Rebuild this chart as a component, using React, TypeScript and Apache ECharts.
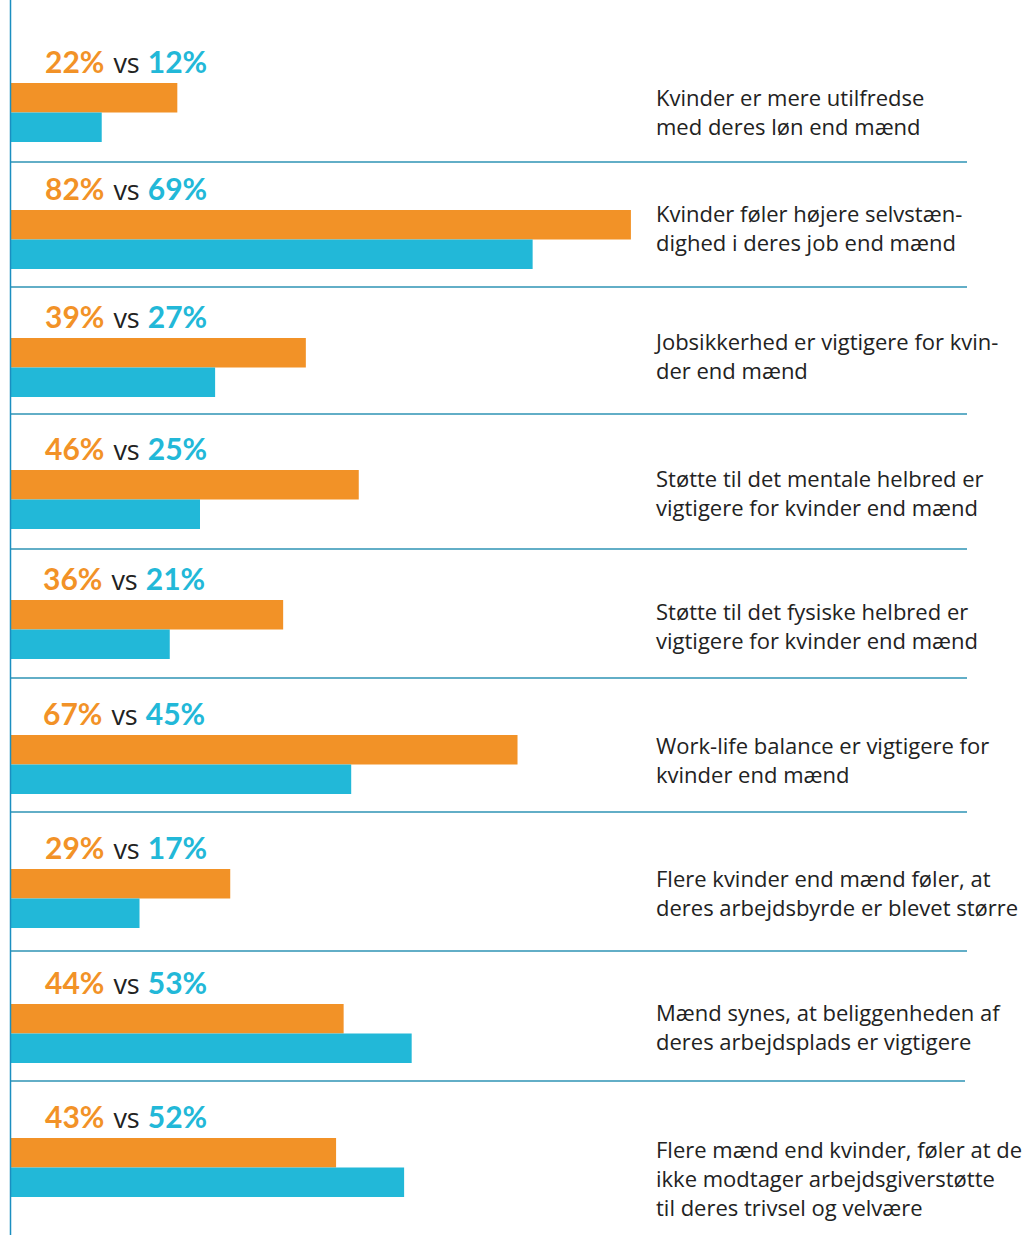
import React, { useEffect, useRef } from "react";
import * as echarts from "echarts";

const women = [22, 82, 39, 46, 36, 67, 29, 44, 43];
const men = [12, 69, 27, 25, 21, 45, 17, 53, 52];
const descriptions = [
  "Kvinder er mere utilfredse\nmed deres løn end mænd",
  "Kvinder føler højere selvstæn-\ndighed i deres job end mænd",
  "Jobsikkerhed er vigtigere for kvin-\nder end mænd",
  "Støtte til det mentale helbred er\nvigtigere for kvinder end mænd",
  "Støtte til det fysiske helbred er\nvigtigere for kvinder end mænd",
  "Work-life balance er vigtigere for\nkvinder end mænd",
  "Flere kvinder end mænd føler, at\nderes arbejdsbyrde er blevet større",
  "Mænd synes, at beliggenheden af\nderes arbejdsplads er vigtigere",
  "Flere mænd end kvinder, føler at de\nikke modtager arbejdsgiverstøtte\ntil deres trivsel og velvære",
];
const groups = ["Kvinder", "Mænd"];

// layout (pixels)
const rowTops = [83, 210, 338, 470, 600, 735, 869, 1004, 1138];
const labelLefts = [45, 45, 45, 45, 43, 43, 45, 45, 45];
const descCenters = [111, 227, 355, 492, 625, 759, 892, 1026, 1178];
const separators = [162, 287, 414, 549, 678, 812, 951, 1081];

const ORANGE = "#F29227";
const BLUE = "#22B8D8";
const TEXT = "#222222";
const LINE = "#2E93B4";
const FONT = "Lato, 'Open Sans', sans-serif";
const DESC_FONT = "'Open Sans', sans-serif";

export default function App() {
  const ref = useRef<HTMLDivElement>(null);
  useEffect(() => {
    document.body.style.margin = "0";
    const chart = echarts.init(ref.current!, null, { renderer: "svg" });
    const grids: any[] = [];
    const xAxes: any[] = [];
    const yAxes: any[] = [];
    const series: any[] = [];
    const graphics: any[] = [];
    women.forEach((w, i) => {
      grids.push({ left: 11, width: 756, top: rowTops[i], height: 59 });
      xAxes.push({ type: "value", gridIndex: i, min: 0, max: 100, show: false });
      yAxes.push({ type: "category", gridIndex: i, data: groups, inverse: true, show: false });
      series.push({
        type: "bar",
        xAxisIndex: i,
        yAxisIndex: i,
        barCategoryGap: "0%",
        data: [
          { value: w, itemStyle: { color: ORANGE } },
          { value: men[i], itemStyle: { color: BLUE } },
        ],
      });
      graphics.push({
        type: "text",
        x: labelLefts[i],
        y: rowTops[i] - 22,
        style: {
          text: `{a|${w}%}{v|vs}{b|${men[i]}%}`,
          verticalAlign: "middle",
          rich: {
            a: { fontFamily: FONT, fontSize: 30, fontWeight: 700, fill: ORANGE, color: ORANGE },
            b: { fontFamily: FONT, fontSize: 30, fontWeight: 700, fill: BLUE, color: BLUE },
            v: {
              fontFamily: DESC_FONT,
              fontSize: 27,
              fontWeight: 400,
              fill: TEXT,
              color: TEXT,
              padding: [2, 8, 0, 9],
            },
          },
        },
      });
      graphics.push({
        type: "text",
        x: 656,
        y: descCenters[i],
        style: {
          text: descriptions[i],
          fontFamily: DESC_FONT,
          fontSize: 22,
          lineHeight: 29,
          fill: TEXT,
          verticalAlign: "middle",
        },
      });
    });
    separators.forEach((y, i) => {
      graphics.push({
        type: "line",
        shape: { x1: 10, y1: y, x2: i === separators.length - 1 ? 965 : 967, y2: y },
        style: { stroke: LINE, lineWidth: 1.5 },
      });
    });
    graphics.push({
      type: "line",
      shape: { x1: 10.5, y1: 0, x2: 10.5, y2: 1235 },
      style: { stroke: "#1B8EC0", lineWidth: 1.5 },
      z: 100,
    });
    chart.setOption({
      animation: false,
      grid: grids,
      xAxis: xAxes,
      yAxis: yAxes,
      series,
      graphic: graphics,
    });
    return () => chart.dispose();
  }, []);
  return (
    <div
      ref={ref}
      style={{ position: "absolute", left: 0, top: 0, width: 1029, height: 1235, background: "#fff" }}
    />
  );
}
